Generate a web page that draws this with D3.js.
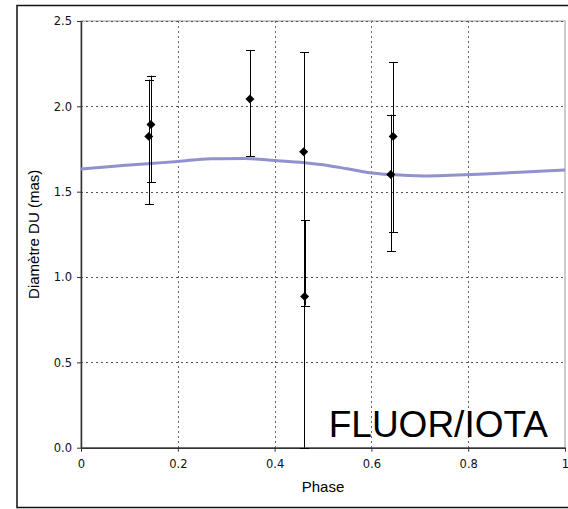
<!DOCTYPE html>
<html>
<head>
<meta charset="utf-8">
<script src="https://cdn.jsdelivr.net/npm/d3@7"></script>
<style>
  body { margin: 0; background: #fff; }
  svg { display: block; }
</style>
</head>
<body>
<div id="chart"></div>
<script>
// measured points (phase, diameter) with error bar ends
const pointPhase = [0.140, 0.1445, 0.349, 0.460, 0.462, 0.640, 0.645];
const pointDiam  = [1.824, 1.894, 2.043, 1.734, 0.886, 1.601, 1.824];
const errLow     = [1.425, 1.557, 1.707, 0.000, 0.833, 1.150, 1.263];
const errHigh    = [2.156, 2.180, 2.328, 2.317, 1.334, 1.951, 2.260];

// model curve
const curvePhase = [0, 0.05, 0.1, 0.138, 0.2, 0.268, 0.338, 0.4, 0.462, 0.51, 0.55, 0.592, 0.64, 0.709, 0.764, 0.833, 0.916, 1.0];
const curveDiam  = [1.633, 1.645, 1.656, 1.664, 1.677, 1.693, 1.694, 1.683, 1.670, 1.654, 1.634, 1.613, 1.600, 1.592, 1.596, 1.604, 1.615, 1.627];

const xTicks = [0, 0.2, 0.4, 0.6, 0.8, 1];
const yTicks = [0, 0.5, 1.0, 1.5, 2.0, 2.5];

const width = 568, height = 509;
const plot = {left: 81, right: 565, top: 21, bottom: 447.7};

const svg = d3.select('#chart').append('svg')
    .attr('width', width).attr('height', height);

// outer frame (right side runs off the picture)
svg.append('rect').attr('x', 17).attr('y', 5.5).attr('width', 570).attr('height', 502)
    .style('fill', 'none').style('stroke', '#111').style('stroke-width', 1.5);

const x = d3.scaleLinear().domain([0, 1]).range([plot.left, plot.right]);
const y = d3.scaleLinear().domain([0, 2.5]).range([plot.bottom, plot.top]);

// plot area border
svg.append('rect').attr('x', plot.left).attr('y', plot.top)
    .attr('width', plot.right - plot.left).attr('height', plot.bottom - plot.top)
    .style('fill', 'none').style('stroke', '#9a9a9a').style('stroke-width', 1);

// grid
const grid = svg.append('g');
grid.selectAll('line.h').data(yTicks.filter(d => d > 0)).enter().append('line')
    .attr('x1', plot.left).attr('x2', plot.right)
    .attr('y1', d => Math.round(y(d)) + 0.5).attr('y2', d => Math.round(y(d)) + 0.5)
    .style('stroke', '#555').style('stroke-dasharray', '2,3');
grid.selectAll('line.v').data(xTicks.filter(d => d > 0 && d < 1)).enter().append('line')
    .attr('y1', plot.top).attr('y2', plot.bottom)
    .attr('x1', d => Math.round(x(d)) + 0.5).attr('x2', d => Math.round(x(d)) + 0.5)
    .style('stroke', '#666').style('stroke-dasharray', '2,3');

// axes
const xAxis = d3.axisBottom(x).tickValues(xTicks).tickFormat(d3.format('')).tickSizeInner(4).tickSizeOuter(0).tickPadding(8);
const yAxis = d3.axisLeft(y).tickValues(yTicks).tickFormat(d3.format('.1f')).tickSizeInner(4).tickSizeOuter(0).tickPadding(5);

const gx = svg.append('g').attr('transform', 'translate(0,' + plot.bottom + ')').call(xAxis);
const gy = svg.append('g').attr('transform', 'translate(' + plot.left + ',0)').call(yAxis);
[gx, gy].forEach(g => {
  g.select('.domain').style('stroke', '#333').style('stroke-width', 1.5);
  g.selectAll('.tick line').style('stroke', '#333');
  g.selectAll('.tick text').style('font-family', '"DejaVu Sans", sans-serif').style('font-size', '11.5px').style('fill', '#111');
});

// model curve
const line = d3.line().x((d, i) => x(curvePhase[i])).y(d => y(d)).curve(d3.curveMonotoneX);
svg.append('path').datum(curveDiam).attr('d', line)
    .style('fill', 'none').style('stroke', '#9191cf').style('stroke-width', 3);

// error bars
const bars = svg.append('g');
pointPhase.forEach((p, i) => {
  const cx = Math.round(x(p)) + 0.5;
  bars.append('line').attr('x1', cx).attr('x2', cx)
      .attr('y1', y(errLow[i])).attr('y2', y(errHigh[i]))
      .style('stroke', '#000').style('stroke-width', 1);
  [errLow[i], errHigh[i]].forEach(v => {
    bars.append('line').attr('x1', cx - 4.5).attr('x2', cx + 4.5)
        .attr('y1', Math.round(y(v)) + 0.5).attr('y2', Math.round(y(v)) + 0.5)
        .style('stroke', '#000').style('stroke-width', 1);
  });
});

// markers
const diamond = d3.symbol().type(d3.symbolSquare).size(40);
svg.append('g').selectAll('path').data(pointDiam).enter().append('path')
    .attr('d', diamond)
    .attr('transform', (d, i) => 'translate(' + x(pointPhase[i]) + ',' + y(d) + ') rotate(45)')
    .style('fill', '#000');

// titles
svg.append('text').attr('x', x(0.5)).attr('y', 492).attr('text-anchor', 'middle')
    .style('font-family', '"Liberation Sans", Arial, sans-serif').style('font-size', '15px')
    .text('Phase');
svg.append('text').attr('transform', 'translate(39,' + ((plot.top + plot.bottom) / 2) + ') rotate(-90)')
    .attr('text-anchor', 'middle')
    .style('font-family', '"Liberation Sans", Arial, sans-serif').style('font-size', '15px')
    .text('Diamètre DU (mas)');
svg.append('text').attr('x', 548).attr('y', 437).attr('text-anchor', 'end')
    .style('font-family', '"Liberation Sans", Arial, sans-serif').style('font-size', '37px')
    .text('FLUOR/IOTA');
</script>
</body>
</html>
